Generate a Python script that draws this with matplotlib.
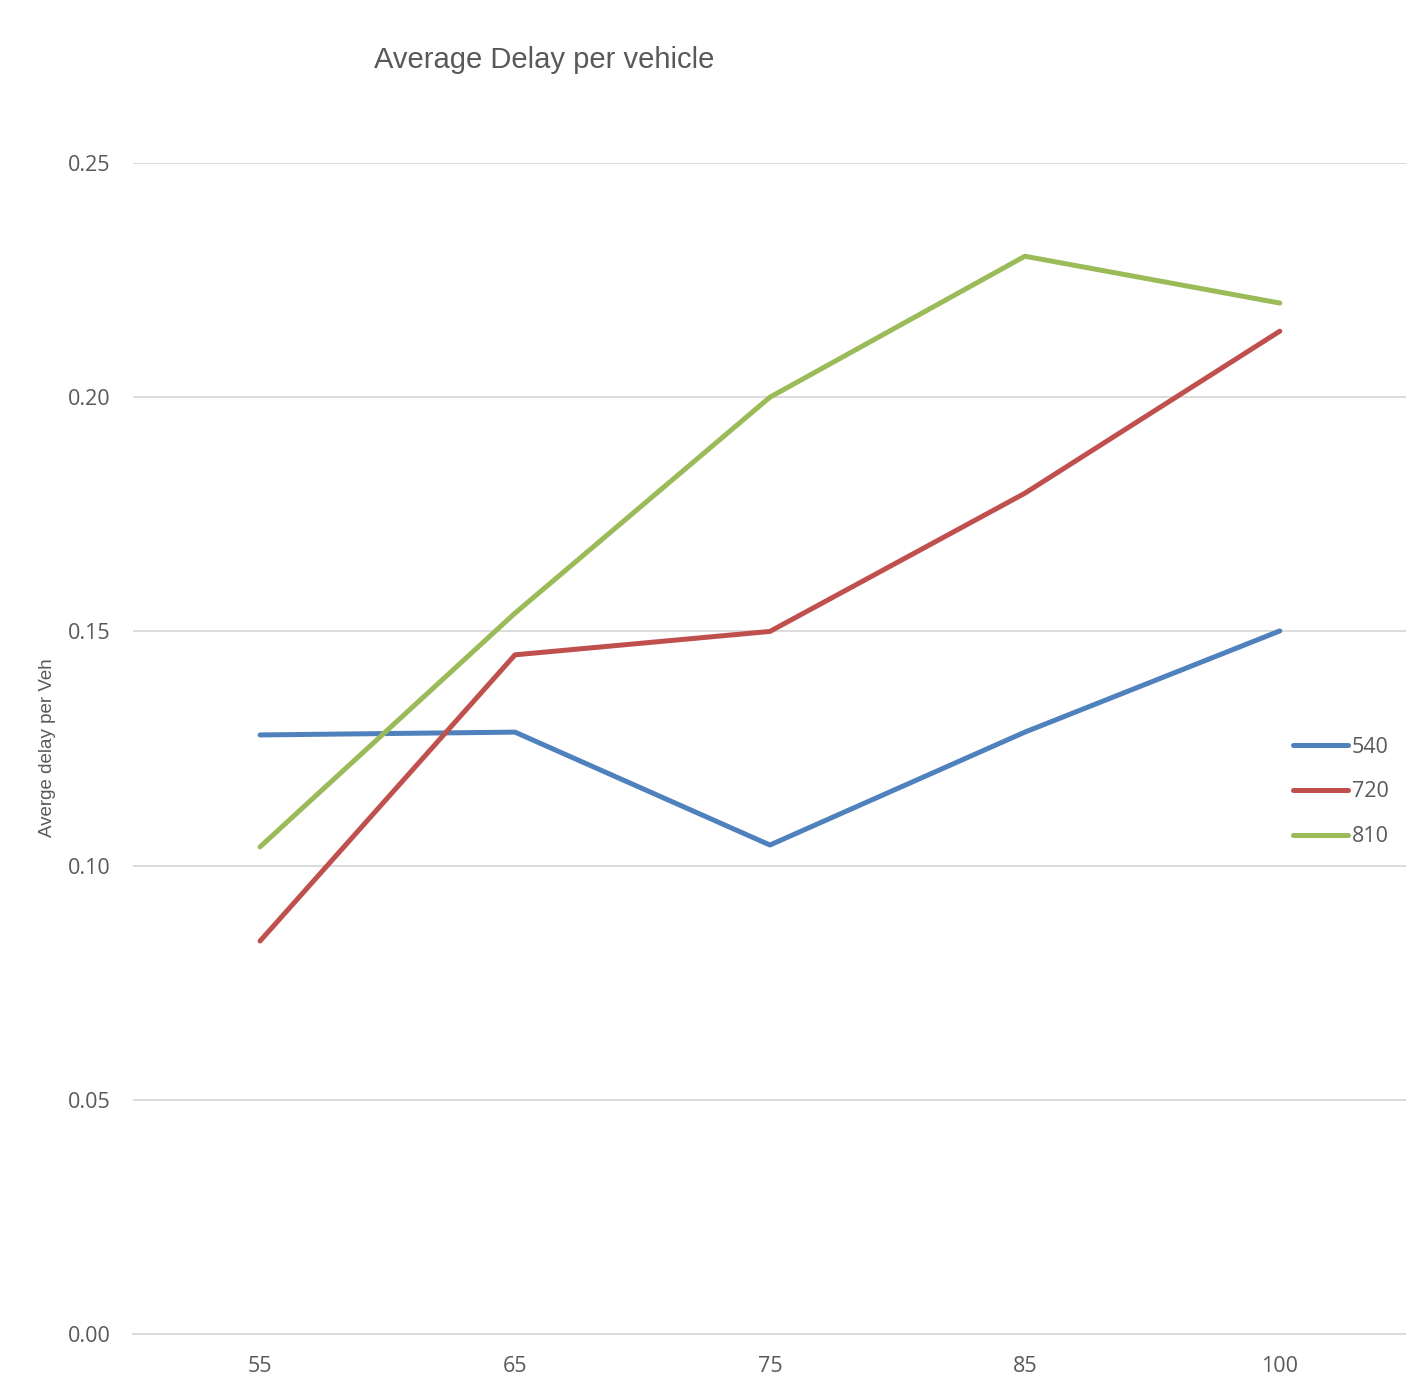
import matplotlib.pyplot as plt
from matplotlib.lines import Line2D

# Speed limits on the x axis and average delay per vehicle for each flow
speeds = ['55', '65', '75', '85', '100']
delay_540 = [0.1279, 0.1285, 0.1044, 0.1285, 0.1501]
delay_720 = [0.0839, 0.1450, 0.1500, 0.1795, 0.2141]
delay_810 = [0.1040, 0.1539, 0.2000, 0.2301, 0.2201]
series_names = ['540', '720', '810']
colors = ['#4F81BD', '#C0504D', '#9BBB59']

tick_font = 'Open Sans'
text_grey = '#595959'

fig = plt.figure(figsize=(14.06, 13.85), dpi=100)
ax = fig.add_axes([0.0943, 0.0368, 0.9066, 0.8455])

x = range(len(speeds))
for vals, c in zip([delay_540, delay_720, delay_810], colors):
    ax.plot(x, vals, color=c, linewidth=3.6, solid_capstyle='round', zorder=3)

ax.set_xlim(-0.5, len(speeds) - 0.5)
ax.set_ylim(0, 0.25)
ax.set_xticks(list(x))
ax.set_xticklabels(speeds)
ax.set_yticks([0, 0.05, 0.10, 0.15, 0.20, 0.25])
ax.set_yticklabels(['%.2f' % v for v in [0, 0.05, 0.10, 0.15, 0.20, 0.25]])
ax.tick_params(axis='both', length=0, labelsize=15.5, labelcolor=text_grey)
ax.tick_params(axis='y', pad=16)
ax.tick_params(axis='x', pad=16)
for lbl in ax.get_xticklabels() + ax.get_yticklabels():
    lbl.set_fontfamily(tick_font)

ax.grid(axis='y', color='#D9D9D9', linewidth=1.3)
ax.set_axisbelow(True)
for side in ['top', 'right', 'left']:
    ax.spines[side].set_visible(False)
ax.spines['bottom'].set_color('#D9D9D9')
ax.spines['bottom'].set_linewidth(1.3)
ax.spines['bottom'].set_zorder(0)

fig.text(0.387, 0.9565, 'Average Delay per vehicle', fontsize=21,
         family='Liberation Sans', color=text_grey, ha='center', va='center')
fig.text(0.034, 0.46, 'Averge delay per Veh', fontsize=13.5,
         family='Liberation Sans', color=text_grey, rotation=90,
         ha='center', va='center')

handles = [Line2D([0], [0], color=c, linewidth=3.6, solid_capstyle='round')
           for c in colors]
leg = fig.legend(handles, series_names, loc='center left',
                 bbox_to_anchor=(0.906, 0.4282), frameon=False,
                 handlelength=2.56, handletextpad=0.15, labelspacing=1.1,
                 prop={'family': tick_font, 'size': 15.5})
for t in leg.get_texts():
    t.set_color(text_grey)

plt.savefig('out.png')
